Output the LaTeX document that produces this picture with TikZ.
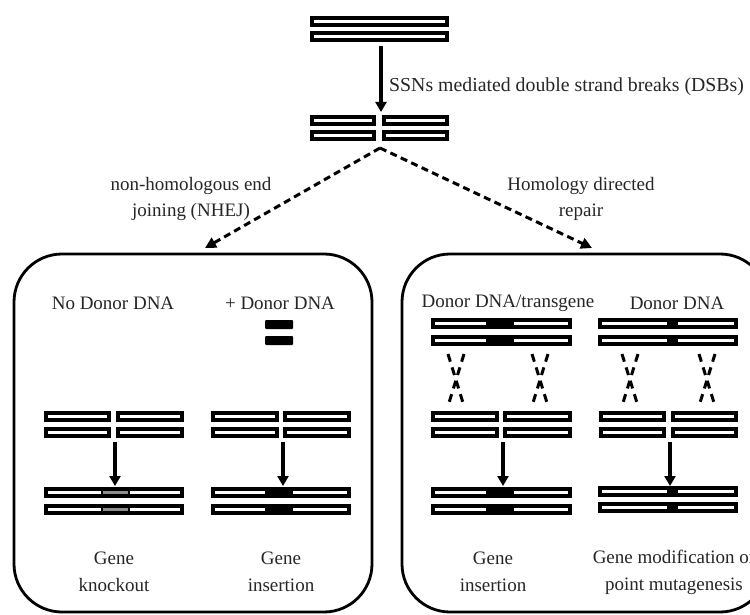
\documentclass[tikz,border=0pt]{standalone}
\usepackage{fontspec}
\setmainfont{Liberation Serif}
\usetikzlibrary{arrows.meta}
\begin{document}
\begin{tikzpicture}[x=1pt,y=-1pt,
  bar/.style={draw=black,fill=white,line width=3.1pt},
  seg/.style={fill=black},
  gfill/.style={fill=gray!90},
  divider/.style={draw=black,line width=2.2pt},
  solidarrow/.style={line width=3.8pt,-{Triangle[length=10pt,width=11pt]}},
  dasharrow/.style={line width=3pt,dash pattern=on 7pt off 4.5pt,-{Triangle[length=11pt,width=11pt]}},
  cross/.style={line width=3pt,dash pattern=on 8pt off 6pt},
  panel/.style={draw=black,line width=2.8pt,rounded corners=48pt},
  lbl/.style={font=\fontsize{19}{23}\selectfont,text=black!85,align=center,inner sep=0pt}]
\useasboundingbox (0,0) rectangle (750,615);
\clip (0,0) rectangle (750,615);
\fill[white] (0,0) rectangle (750,615);

% top intact DNA
\draw[bar] (312,18) rectangle (447,25);
\draw[bar] (312,33) rectangle (447,40);
\coordinate (topA) at (381,46);
\coordinate (topB) at (381,112);
\draw[solidarrow] (topA) -- (topB);
\node[lbl,anchor=west,font=\fontsize{19.8}{23}\selectfont] (ssn) at (389,87) {SSNs mediated double strand breaks (DSBs)};

% broken DNA
\draw[bar] (312,117) rectangle (374,124);
\draw[bar] (384,117) rectangle (447,124);
\draw[bar] (312,132) rectangle (374,139);
\draw[bar] (384,132) rectangle (447,139);

% branches
\coordinate (apex) at (380,148);
\coordinate (leftTip) at (205,248);
\coordinate (rightTip) at (592,248);
\draw[dasharrow] (apex) -- (leftTip);
\draw[dasharrow] (apex) -- (rightTip);
\node[lbl] (nhej) at (191,199) {non-homologous end\\[3pt]joining (NHEJ)};
\node[lbl] (hdr) at (581,199) {Homology directed\\[3pt]repair};

% panels
\draw[panel] (14,254) rectangle (372,612);
\draw[panel] (402,254) rectangle (768,612);

% ===== left panel =====
\node[lbl] (nodonor) at (113,303) {No Donor DNA};
\node[lbl] (pdonor) at (280,303) {+ Donor DNA};
\fill[black,rounded corners=1pt] (265,320) rectangle (293,329);
\fill[black,rounded corners=1pt] (265,336) rectangle (293,345);

% broken bars
\foreach \y in {412,428}{
  \draw[bar] (46,\y+1) rectangle (109,\y+8);
  \draw[bar] (118,\y+1) rectangle (182,\y+8);
  \draw[bar] (213,\y+1) rectangle (277,\y+8);
  \draw[bar] (285,\y+1) rectangle (349,\y+8);
}
\coordinate (l1a) at (115,442);
\coordinate (l1b) at (115,486);
\coordinate (l2a) at (283,442);
\coordinate (l2b) at (283,486);
\draw[solidarrow] (l1a) -- (l1b);
\draw[solidarrow] (l2a) -- (l2b);

% results
\foreach \y in {488,505}{
  \draw[bar] (46,\y+1) rectangle (182,\y+8);
  \fill[gfill] (102,\y+1) rectangle (129,\y+8);
  \draw[bar,fill=none] (46,\y+1) rectangle (182,\y+8);
  \draw[divider] (102,\y-0.5) -- (102,\y+9.5);
  \draw[divider] (129,\y-0.5) -- (129,\y+9.5);
  \draw[bar] (213,\y+1) rectangle (349,\y+8);
  \fill[seg] (265,\y-0.5) rectangle (293,\y+9.5);
}
\node[lbl] (ko) at (114,572) {Gene\\[4pt]knockout};
\node[lbl] (ins1) at (281,572) {Gene\\[4pt]insertion};

% ===== right panel =====
\node[lbl] (dtg) at (508,303) {Donor DNA/transgene};
\node[lbl] (dd) at (677,303) {Donor DNA};
\foreach \y in {319,336}{
  \draw[bar] (433,\y+1) rectangle (570,\y+8);
  \fill[seg] (486,\y-0.5) rectangle (514,\y+9.5);
  \draw[bar] (600,\y+1) rectangle (736,\y+8);
  \fill[seg] (667,\y-0.5) rectangle (678,\y+9.5);
}
% crossovers
\foreach \cx in {456,540,630,707}{
  \coordinate (xa\cx) at (\cx-8,354);
  \coordinate (xb\cx) at (\cx+8,406);
  \coordinate (xc\cx) at (\cx+8,354);
  \coordinate (xd\cx) at (\cx-8,406);
  \draw[cross] (xa\cx) -- (xb\cx);
  \draw[cross] (xc\cx) -- (xd\cx);
}
\foreach \y in {412,428}{
  \draw[bar] (433,\y+1) rectangle (497,\y+8);
  \draw[bar] (505,\y+1) rectangle (570,\y+8);
  \draw[bar] (601,\y+1) rectangle (664,\y+8);
  \draw[bar] (673,\y+1) rectangle (736,\y+8);
}
\coordinate (r1a) at (503,442);
\coordinate (r1b) at (503,486);
\coordinate (r2a) at (670,442);
\coordinate (r2b) at (670,486);
\draw[solidarrow] (r1a) -- (r1b);
\draw[solidarrow] (r2a) -- (r2b);
\foreach \y in {488,505}{
  \draw[bar] (433,\y+1) rectangle (570,\y+8);
  \fill[seg] (486,\y-0.5) rectangle (514,\y+9.5);
}
\foreach \y in {487,503}{
  \draw[bar] (600,\y+1) rectangle (736,\y+8);
  \fill[seg] (667,\y-0.5) rectangle (678,\y+9.5);
}
\node[lbl] (ins2) at (493,572) {Gene\\[4pt]insertion};
\node[lbl] (mod) at (674,572) {Gene modification or\\[4pt]point mutagenesis};
\end{tikzpicture}
\end{document}
